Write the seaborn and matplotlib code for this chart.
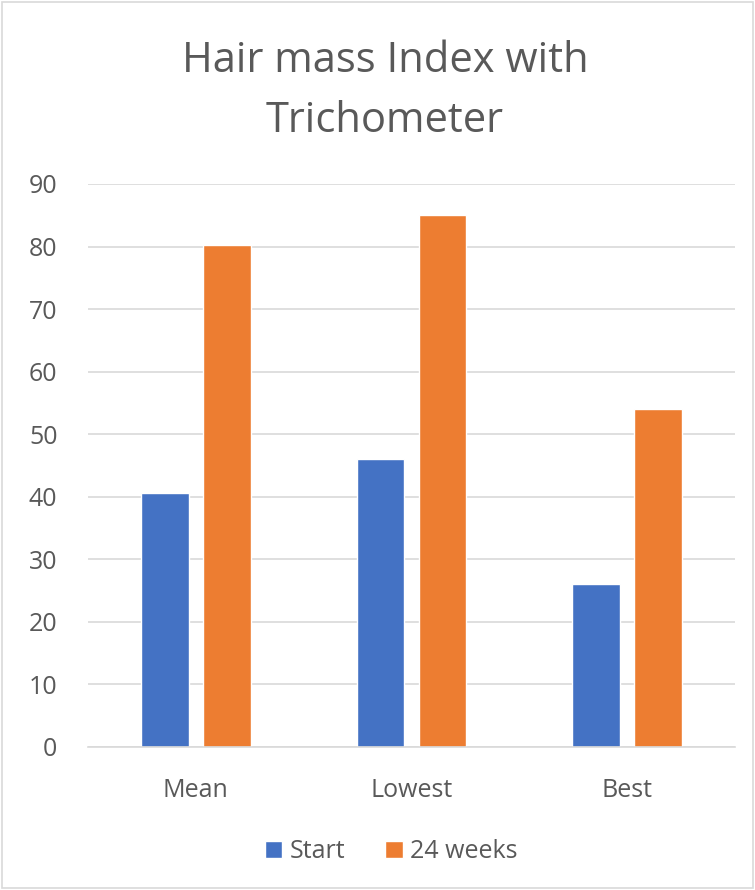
import matplotlib
matplotlib.use('agg')
import matplotlib.pyplot as plt
import seaborn as sns
import pandas as pd

categories = ['Mean', 'Lowest', 'Best']
start = [40.6, 46, 26]
weeks24 = [80.3, 85, 54]
series = ['Start', '24 weeks']

df = pd.DataFrame({
    'category': categories * 2,
    'value': start + weeks24,
    'series': [series[0]] * 3 + [series[1]] * 3,
})

sns.set_style('white')
plt.rcParams['font.family'] = ['Open Sans', 'DejaVu Sans']
text_color = '#595959'

fig = plt.figure(figsize=(7.55, 8.9), dpi=100)
ax = fig.add_axes([0.1166, 0.1607, 0.857, 0.6326])

sns.barplot(data=df, x='category', y='value', hue='series',
            palette=['#4472C4', '#ED7D31'], width=0.574, gap=0.23,
            saturation=1, ax=ax, legend=True)

ax.set_ylim(0, 90)
ax.set_xlim(-0.5, 2.5)
ax.set_yticks(range(0, 91, 10))
ax.yaxis.grid(True, color='#d9d9d9', linewidth=1.2)
ax.set_axisbelow(True)
for s in ['top', 'right', 'left']:
    ax.spines[s].set_visible(False)
ax.spines['bottom'].set_color('#d9d9d9')
ax.spines['bottom'].set_linewidth(1.2)
ax.tick_params(axis='both', length=0, labelsize=18, colors=text_color)
ax.tick_params(axis='y', pad=22)
ax.tick_params(axis='x', pad=22)
ax.set_xlabel('')
ax.set_ylabel('')

fig.text(0.51, 0.898, 'Hair mass Index with\nTrichometer', ha='center', va='center',
         fontsize=30, color=text_color, linespacing=1.55)

handles, labels = ax.get_legend_handles_labels()
ax.get_legend().remove()
fig.legend(handles, labels, loc='center', bbox_to_anchor=(0.518, 0.043), ncol=2,
           frameon=False, fontsize=18, labelcolor=text_color, handlelength=0.7,
           handleheight=0.7, handletextpad=0.3, columnspacing=1.6)

fig.patches.append(plt.Rectangle((0.002, 0.002), 0.996, 0.996, transform=fig.transFigure,
                                 fill=False, edgecolor='#d9d9d9', linewidth=1.2))

fig.savefig('out.png', dpi=100)
